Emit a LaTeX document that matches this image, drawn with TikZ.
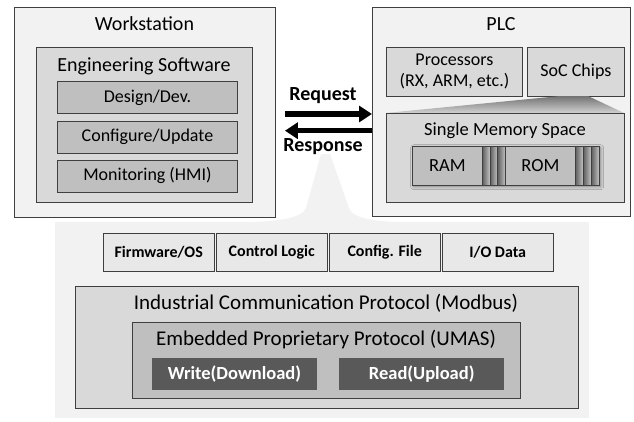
\documentclass[tikz,border=0pt]{standalone}
\usepackage{fontspec}
\setmainfont{Carlito}
\usetikzlibrary{arrows.meta,shadows.blur}

\definecolor{panel}{HTML}{F2F2F2}
\definecolor{boxgray}{HTML}{D9D9D9}
\definecolor{midgray}{HTML}{BFBFBF}
\definecolor{opgray}{HTML}{595959}
\definecolor{edge}{HTML}{3F3F3F}

\begin{document}
\begin{tikzpicture}[x=1pt,y=-1pt]
\tikzstyle{box}=[rectangle,draw=edge,line width=0.9pt,inner sep=0pt,anchor=north west]
\tikzstyle{outer}=[box,fill=panel]
\tikzstyle{inner}=[box,fill=boxgray]
\tikzstyle{item}=[box,fill=midgray,font=\fontsize{18}{20}\selectfont]
\tikzstyle{filebox}=[box,fill=black!9,font=\bfseries\fontsize{16}{18}\selectfont]
\tikzstyle{op}=[rectangle,fill=opgray,text=white,inner sep=0pt,anchor=north west,font=\bfseries\fontsize{18.5}{20}\selectfont]
\tikzstyle{slice}=[box,left color=black!62,right color=black!22]
\tikzstyle{title}=[font=\fontsize{20}{22}\selectfont]
\tikzstyle{flow}=[line width=5.5pt,-{Triangle[length=13pt,width=16pt]}]
\tikzstyle{flowlabel}=[font=\bfseries\fontsize{20}{22}\selectfont]

\useasboundingbox (0,0) rectangle (634,421);

% light ground of the lower block, with the funnel up to the link
\node[fill=panel,inner sep=0pt,anchor=north west,minimum width=534,minimum height=196] (base) at (55,222) {};
\fill[panel] (321,154) -- (306,208) .. controls (302,217) and (285,221) .. (250,222)
  -- (400,222) .. controls (368,221) and (352,217) .. (349,208) -- (330,154) -- cycle;

% workstation side
\node[outer,minimum width=261,minimum height=210] (ws) at (14,7) {};
\node[title] (wstitle) at (144.5,24) {Workstation};
\node[inner,minimum width=216,minimum height=155] (eng) at (36,47) {};
\node[title] (engtitle) at (144,66) {Engineering Software};
\node[item,minimum width=180,minimum height=32] (design) at (57,81) {Design/Dev.};
\node[item,minimum width=180,minimum height=32] (config) at (57,120.5) {Configure/Update};
\node[item,minimum width=180,minimum height=32] (monitor) at (57,159.5) {Monitoring (HMI)};

% PLC side
\node[outer,minimum width=258,minimum height=209] (plc) at (372,7) {};
\node[title] (plctitle) at (501,24) {PLC};
\node[inner,minimum width=136,minimum height=49,align=center,font=\fontsize{18}{21}\selectfont] (cpu) at (386,47) {Processors\\(RX, ARM, etc.)};
\node[inner,minimum width=97,minimum height=49,font=\fontsize{18}{20}\selectfont] (soc) at (527,47) {SoC Chips};
\shade[top color=black!55,bottom color=black!18] (560,96) -- (588,96) -- (624,113) -- (386,113) -- cycle;
\node[inner,minimum width=238,minimum height=89] (mem) at (386,113) {};
\node[font=\fontsize{18.5}{20}\selectfont] (memtitle) at (505,131) {Single Memory Space};

% RAM / ROM strip
\node[anchor=north west,inner sep=0pt,minimum width=187,minimum height=39,fill=black!40,
  blur shadow={shadow xshift=1.5pt,shadow yshift=-1.5pt,shadow blur radius=3pt}] (strip) at (412,146) {};
\node[box,fill=midgray,minimum width=70,minimum height=39,font=\fontsize{18.5}{20}\selectfont] (ram) at (412,146) {RAM};
\node[slice,minimum width=7.7,minimum height=39] (ram1) at (482,146) {};
\node[slice,minimum width=7.7,minimum height=39] (ram2) at (489.7,146) {};
\node[slice,minimum width=7.7,minimum height=39] (ram3) at (497.4,146) {};
\node[box,fill=midgray,minimum width=70,minimum height=39,font=\fontsize{18.5}{20}\selectfont] (rom) at (505,146) {ROM};
\node[slice,minimum width=8,minimum height=39] (rom1) at (575,146) {};
\node[slice,minimum width=8,minimum height=39] (rom2) at (583,146) {};
\node[slice,minimum width=8,minimum height=39] (rom3) at (591,146) {};

% request / response
\coordinate (req) at (0,114);
\coordinate (res) at (0,130.7);
\draw[flow,shorten <=9pt] (ws.east |- req) -- (plc.west |- req);
\draw[flow,shorten >=9pt] (plc.west |- res) -- (ws.east |- res);
\node[flowlabel] (reqlbl) at (323,96) {Request};
\node[flowlabel] (reslbl) at (323,147) {Response};

% data carried over the link
\node[filebox,minimum width=110.5,minimum height=38] (fw) at (103,233) {Firmware/OS};
\node[filebox,minimum width=110.5,minimum height=38] (logic) at (216,233) {Control Logic};
\node[filebox,minimum width=110.5,minimum height=38] (cfg) at (329,233) {Config. File};
\node[filebox,minimum width=110.5,minimum height=38] (io) at (442,233) {I/O Data};

% protocol stack
\node[inner,minimum width=503,minimum height=122] (modbus) at (75,286) {};
\node[font=\fontsize{21}{23}\selectfont] (modbustitle) at (326,303.5) {Industrial Communication Protocol (Modbus)};
\node[box,fill=midgray,minimum width=388,minimum height=75.5] (umas) at (132,322) {};
\node[font=\fontsize{21}{23}\selectfont] (umastitle) at (326,340) {Embedded Proprietary Protocol (UMAS)};
\node[op,minimum width=164.5,minimum height=32] (write) at (152,357.5) {Write(Download)};
\node[op,minimum width=165,minimum height=32] (read) at (339,357.5) {Read(Upload)};
\end{tikzpicture}
\end{document}
